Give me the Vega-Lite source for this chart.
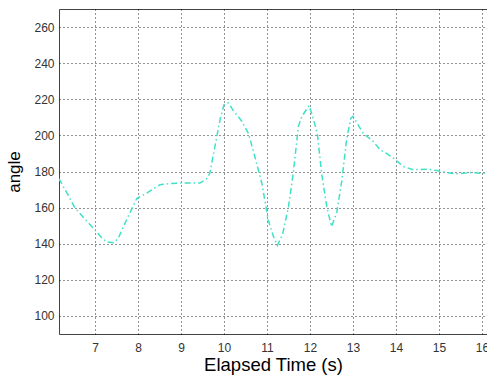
{
  "$schema": "https://vega.github.io/schema/vega-lite/v6.json",
  "autosize": "none",
  "padding": {"left": 59, "top": 9, "right": 0, "bottom": 44},
  "width": 440,
  "height": 325,
  "background": "white",
  "config": {
    "font": "Liberation Sans",
    "view": {"stroke": "#444", "strokeWidth": 1},
    "axis": {
      "domain": false,
      "ticks": false,
      "grid": true,
      "gridColor": "#000",
      "gridOpacity": 0.85,
      "gridDash": [1, 3],
      "gridWidth": 1,
      "labelFont": "Liberation Sans",
      "labelFontSize": 12,
      "labelColor": "#333",
      "titleFont": "Liberation Sans",
      "titleFontWeight": "normal",
      "titleFontSize": 17,
      "titleColor": "#000"
    }
  },
  "data": {
    "values": [
      {"t": 6.16, "angle": 176}, {"t": 6.35, "angle": 168}, {"t": 6.53, "angle": 160},
      {"t": 6.75, "angle": 154}, {"t": 7.0, "angle": 147.6}, {"t": 7.15, "angle": 143.5},
      {"t": 7.27, "angle": 141}, {"t": 7.43, "angle": 140.5}, {"t": 7.54, "angle": 143},
      {"t": 7.73, "angle": 153}, {"t": 7.97, "angle": 165}, {"t": 8.2, "angle": 168},
      {"t": 8.51, "angle": 172.7}, {"t": 8.74, "angle": 173.3}, {"t": 8.97, "angle": 173.6},
      {"t": 9.2, "angle": 173.6}, {"t": 9.44, "angle": 173.6}, {"t": 9.6, "angle": 176},
      {"t": 9.67, "angle": 179}, {"t": 9.79, "angle": 194}, {"t": 9.91, "angle": 209},
      {"t": 10.0, "angle": 217}, {"t": 10.1, "angle": 218}, {"t": 10.22, "angle": 213.6},
      {"t": 10.41, "angle": 208}, {"t": 10.57, "angle": 201}, {"t": 10.72, "angle": 188},
      {"t": 10.88, "angle": 173.5}, {"t": 11.03, "angle": 153}, {"t": 11.15, "angle": 144},
      {"t": 11.24, "angle": 139}, {"t": 11.36, "angle": 145}, {"t": 11.5, "angle": 160.5},
      {"t": 11.61, "angle": 179}, {"t": 11.73, "angle": 205}, {"t": 11.81, "angle": 210.5},
      {"t": 11.92, "angle": 214.4}, {"t": 11.98, "angle": 216.5}, {"t": 12.08, "angle": 209},
      {"t": 12.17, "angle": 201}, {"t": 12.27, "angle": 179}, {"t": 12.39, "angle": 160.5},
      {"t": 12.5, "angle": 149.5}, {"t": 12.62, "angle": 157}, {"t": 12.74, "angle": 175},
      {"t": 12.85, "angle": 197.6}, {"t": 12.95, "angle": 209.6}, {"t": 13.0, "angle": 210.5},
      {"t": 13.09, "angle": 207}, {"t": 13.24, "angle": 201}, {"t": 13.47, "angle": 196.7},
      {"t": 13.63, "angle": 192}, {"t": 13.78, "angle": 190}, {"t": 13.94, "angle": 187.4},
      {"t": 14.17, "angle": 182.8}, {"t": 14.4, "angle": 181}, {"t": 14.71, "angle": 181.3},
      {"t": 14.95, "angle": 180.5}, {"t": 15.18, "angle": 179.4}, {"t": 15.41, "angle": 178.7},
      {"t": 15.72, "angle": 179.4}, {"t": 16.03, "angle": 179}, {"t": 16.3, "angle": 179}
    ]
  },
  "mark": {"type": "line", "color": "#3fe0c8", "strokeWidth": 1.5, "strokeDash": [6, 3, 1.5, 3], "clip": true},
  "encoding": {
    "x": {
      "field": "t",
      "type": "quantitative",
      "scale": {"domain": [6.163, 16.395], "nice": false, "zero": false},
      "axis": {"title": "Elapsed Time (s)", "titleFontSize": 18.5, "titleX": 214, "values": [7, 8, 9, 10, 11, 12, 13, 14, 15, 16], "labelPadding": 8, "titlePadding": 2}
    },
    "y": {
      "field": "angle",
      "type": "quantitative",
      "scale": {"domain": [90, 270], "nice": false, "zero": false},
      "axis": {"title": "angle", "values": [100, 120, 140, 160, 180, 200, 220, 240, 260], "labelPadding": 5, "titlePadding": 10}
    }
  }
}
